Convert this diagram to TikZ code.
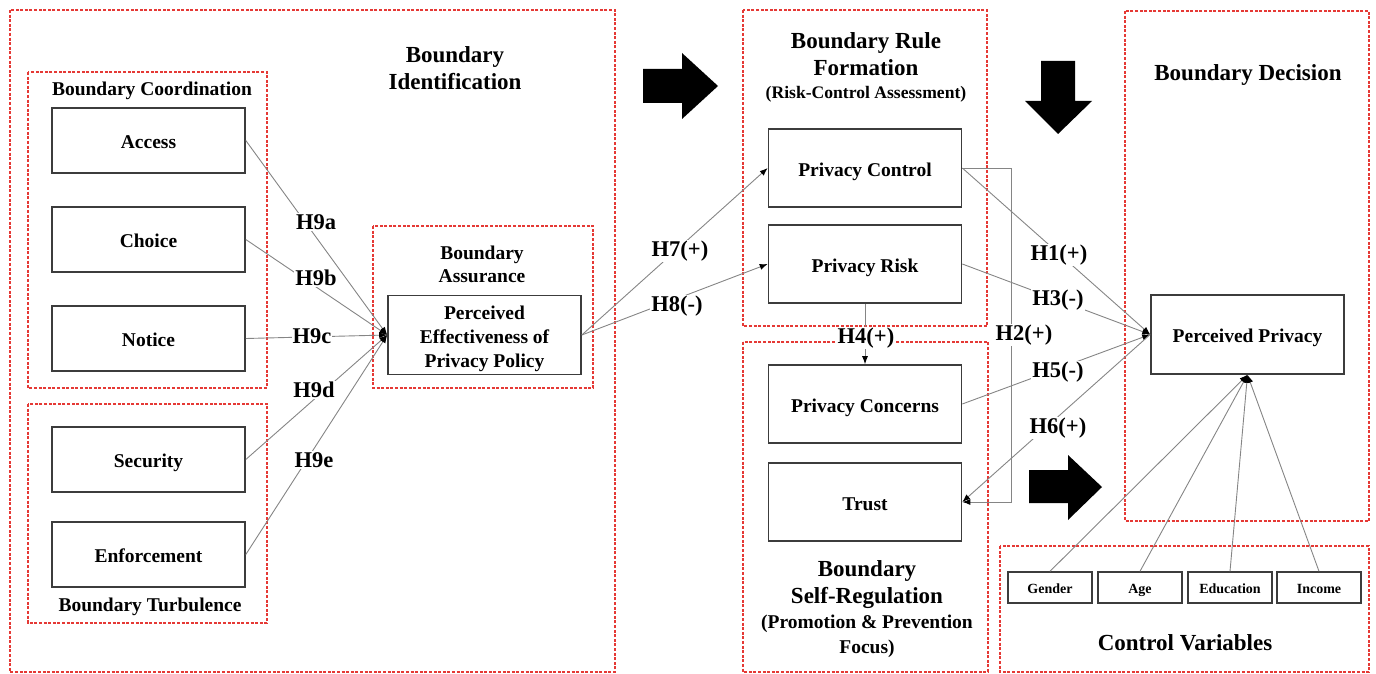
\documentclass[tikz,border=0pt]{standalone}
\usepackage{fontspec}
\setmainfont{Liberation Serif}
\usetikzlibrary{positioning,arrows.meta}
\definecolor{dashred}{HTML}{E53935}
\definecolor{inkgray}{HTML}{3C3C3C}
\definecolor{wiregray}{HTML}{858585}

\begin{document}
\begin{tikzpicture}[x=1pt, y=-1pt,
  zone/.style={draw=dashred, line width=1.3pt, dash pattern=on 3pt off 1.6pt},
  conbox/.style={draw=inkgray, line width=1.6pt, minimum width=193pt, align=center, font=\fontsize{19.5}{24}\selectfont\bfseries},
  varbox/.style={conbox, minimum height=65pt, text height=16pt, text depth=0pt},
  tallbox/.style={varbox, minimum height=78pt},
  ctrlbox/.style={draw=inkgray, line width=1.4pt, minimum width=84pt, minimum height=31pt, text height=12pt, text depth=0pt, font=\fontsize{14}{16}\selectfont\bfseries},
  zonetitle/.style={align=center, font=\fontsize{23}{27}\selectfont\bfseries},
  subtitle/.style={align=center, font=\fontsize{19.5}{23}\selectfont\bfseries},
  hyp/.style={fill=white, inner sep=1pt, font=\fontsize{22.5}{26}\selectfont\bfseries},
  link/.style={draw=wiregray, line width=0.9pt, -{Latex[length=8pt,width=6pt,color=black]}}]
\useasboundingbox (0,0) rectangle (1376,674);

\draw[zone] (10,10) rectangle (615,672);
\draw[zone] (28,72) rectangle (267,388);
\draw[zone] (28,404) rectangle (267,623);
\draw[zone] (373,226) rectangle (593,388);
\draw[zone] (743,10) rectangle (987,326);
\draw[zone] (743,342) rectangle (988,672);
\draw[zone] (1125,11) rectangle (1369,521);
\draw[zone] (1000,546) rectangle (1369,672);

\node[zonetitle] (identtitle) at (455,68) {Boundary\\Identification};
\node[subtitle] (coordtitle) at (152,91) {Boundary Coordination};
\node[subtitle] (turbtitle) at (150,607) {Boundary Turbulence};
\node[subtitle] (assurtitle) at (482,264) {Boundary\\Assurance};
\node[zonetitle] (ruletitle) at (866,54) {Boundary Rule\\Formation};
\node[font=\fontsize{17.6}{20}\selectfont\bfseries] (risktitle) at (866,94) {(Risk-Control Assessment)};
\node[zonetitle] (decisiontitle) at (1248,75) {Boundary Decision};
\node[zonetitle] (selftitle) at (867,585) {Boundary\\Self-Regulation};
\node[subtitle, font=\fontsize{19.5}{25}\selectfont\bfseries] (focustitle) at (867,636) {(Promotion \& Prevention\\Focus)};
\node[zonetitle] (ctrltitle) at (1185,643) {Control Variables};

\fill (643,69) -- (682,69) -- (682,53) -- (718,86) -- (682,119) -- (682,103) -- (643,103) -- cycle;
\fill (1041,61) -- (1075,61) -- (1075,101) -- (1092,101) -- (1058,134) -- (1025,101) -- (1041,101) -- cycle;
\fill (1029,470) -- (1068,470) -- (1068,455) -- (1102,487) -- (1068,520) -- (1068,503) -- (1029,503) -- cycle;

\node[varbox] (access) at (148.5,140.5) {Access};
\node[varbox, below=32.4pt of access] (choice) {Choice};
\node[varbox, below=32.4pt of choice] (notice) {Notice};
\node[varbox, below=54.4pt of notice] (security) {Security};
\node[varbox, below=28.4pt of security] (enforce) {Enforcement};
\node[conbox, minimum height=78pt] (pepp) at (484.5,335) {\rule{0pt}{20.5pt}Perceived\\Effectiveness of\\Privacy Policy};

\node[tallbox] (pcontrol) at (865,168) {Privacy Control};
\node[tallbox, below=16.4pt of pcontrol] (prisk) {Privacy Risk};
\node[tallbox, below=60.4pt of prisk] (pconcern) {Privacy Concerns};
\node[tallbox, below=18.4pt of pconcern] (trust) {Trust};
\node[tallbox, minimum height=79pt] (pp) at (1247.5,334.5) {Perceived Privacy};

\node[ctrlbox] (gender) at (1050,587.5) {Gender};
\node[ctrlbox, right=4.6pt of gender] (age) {Age};
\node[ctrlbox, right=4.6pt of age] (edu) {Education};
\node[ctrlbox, right=3.6pt of edu] (income) {Income};

\draw[link] (access.east) -- (pepp.west);
\draw[link] (choice.east) -- (pepp.west);
\draw[link] (notice.east) -- (pepp.west);
\draw[link] (security.east) -- (pepp.west);
\draw[link] (enforce.east) -- (pepp.west);
\draw[link] (pepp.east) -- (pcontrol.west);
\draw[link] (pepp.east) -- (prisk.west);
\draw[link] (prisk.south) -- (pconcern.north);
\draw[link] (pcontrol.east) -- (pp.west);
\draw[link] (prisk.east) -- (pp.west);
\draw[link] (pconcern.east) -- (pp.west);
\draw[link] (pp.west) -- (trust.east);
\coordinate (h2rail) at (1011,0);
\draw[link] (pcontrol.east) -| (h2rail |- trust.east) -- (trust.east);
\draw[link] (gender.north) -- (pp.south);
\draw[link] (age.north) -- (pp.south);
\draw[link] (edu.north) -- (pp.south);
\draw[link] (income.north) -- (pp.south);

\node[hyp] (h9a) at (316,222) {H9a};
\node[hyp] (h9b) at (316,278) {H9b};
\node[hyp] (h9c) at (312,336) {H9c};
\node[hyp] (h9d) at (314,390) {H9d};
\node[hyp] (h9e) at (314,460) {H9e};
\node[hyp] (h7) at (680,251) {H7(+)};
\node[hyp] (h8) at (677,306) {H8(-)};
\node[hyp] (h4) at (866,338) {H4(+)};
\node[hyp] (h1) at (1059,255) {H1(+)};
\node[hyp] (h3) at (1058,300) {H3(-)};
\node[hyp] (h2) at (1024,335) {H2(+)};
\node[hyp] (h5) at (1058,372) {H5(-)};
\node[hyp] (h6) at (1058,428) {H6(+)};
\end{tikzpicture}
\end{document}
